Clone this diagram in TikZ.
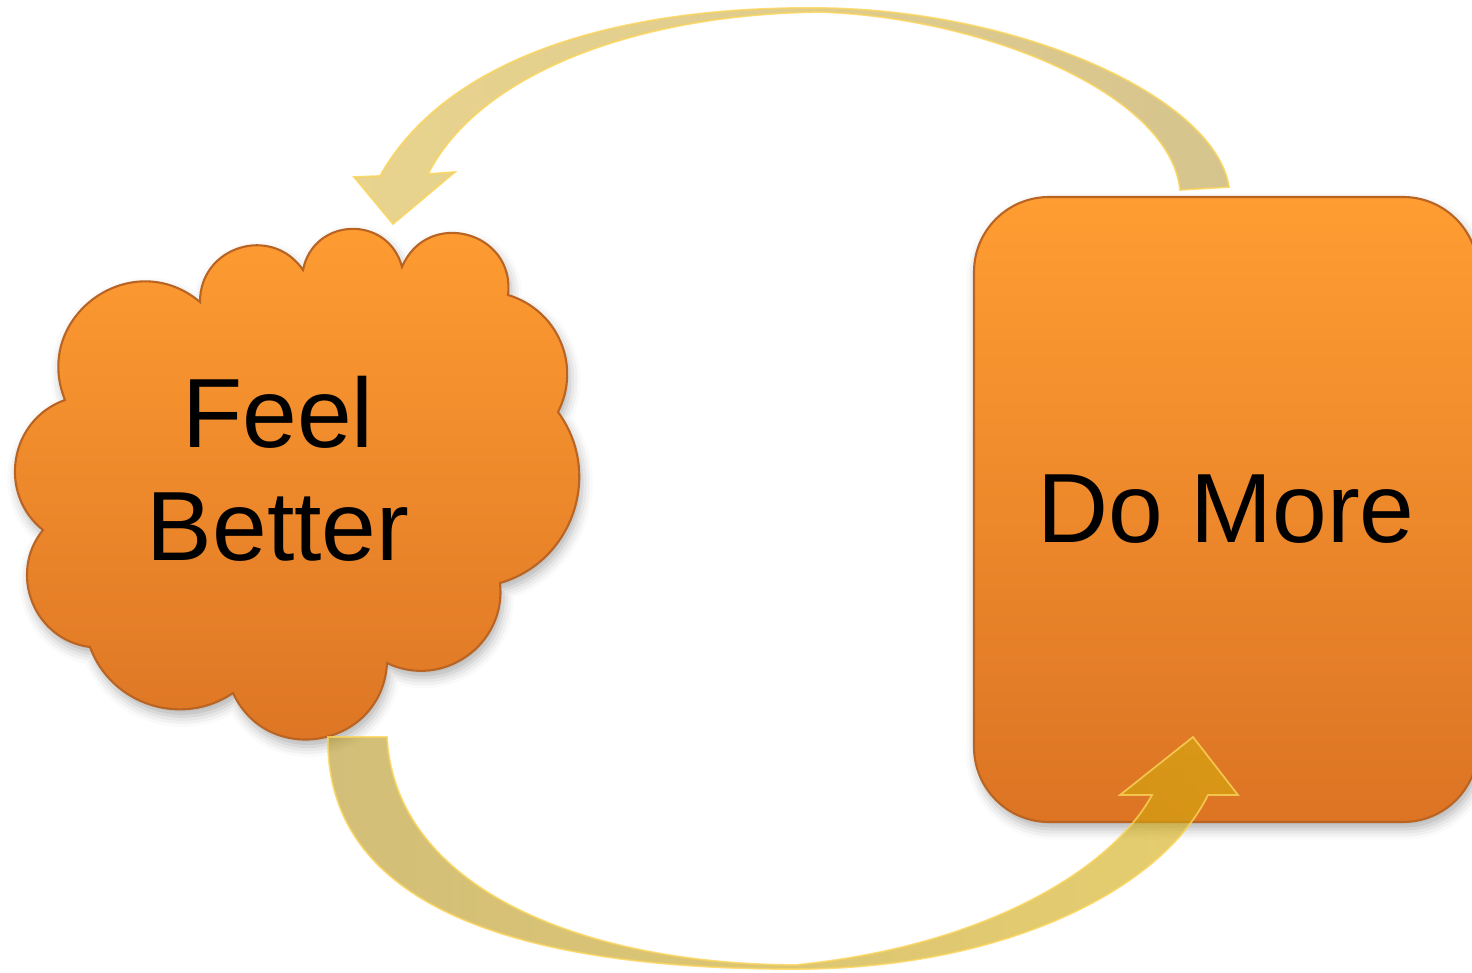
\documentclass[tikz,border=0pt]{standalone}
\usepackage{fontspec}
\setmainfont{Liberation Sans}
\usepackage{tikz}
\usetikzlibrary{shadows.blur}
\definecolor{arancioalto}{RGB}{255,157,50}
\definecolor{aranciobasso}{RGB}{220,116,36}
\definecolor{bordoarancio}{RGB}{185,100,35}
\definecolor{orochiaro}{RGB}{217,183,67}
\definecolor{oroscuro}{RGB}{187,157,67}
\definecolor{orochiarob}{RGB}{213,172,13}
\definecolor{oroscurob}{RGB}{180,147,30}
\definecolor{bordooro}{RGB}{250,212,90}

\begin{document}
\begin{tikzpicture}[
    forma/.style={draw=bordoarancio, line width=0.6pt,
                  top color=arancioalto, bottom color=aranciobasso,
                  blur shadow={shadow xshift=0.8pt, shadow yshift=-2pt,
                               shadow blur radius=3pt, shadow opacity=30}},
    testo/.style={font=\fontsize{28}{32.2}\selectfont, text=black, align=center},
    freccia/.style={draw=bordooro, line width=0.5pt, fill opacity=0.6, draw opacity=0.8},
  ]
  \useasboundingbox (0,0) rectangle (14.72,9.72);

  % Nuvola "Feel Better" (undici gobbe, in senso orario)
  \path[forma] (0.65,5.72)
    to[bend left=76, looseness=1.37] (2.00,6.70)
    to[bend left=73, looseness=1.32] (3.03,7.02)
    to[bend left=77, looseness=1.40] (4.02,7.05)
    to[bend left=82, looseness=1.50] (5.08,6.77)
    to[bend left=50, looseness=1.05] (5.58,5.60)
    to[bend left=55, looseness=1.08] (5.00,3.89)
    to[bend left=61, looseness=1.14] (3.87,3.09)
    to[bend left=76, looseness=1.37] (2.33,2.79)
    to[bend left=52, looseness=1.05] (0.90,3.25)
    to[bend left=61, looseness=1.14] (0.43,4.42)
    to[bend left=61, looseness=1.14] (0.65,5.72)
    -- cycle;
  \node[testo] (feel) at (2.78,5.03) {Feel\\Better};

  % Rettangolo arrotondato "Do More" (tagliato dal bordo destro)
  \node[forma, testo, rounded corners=0.75cm, minimum width=5.04cm, minimum height=6.25cm]
    (domore) at (12.26,4.625) {Do More};

  % Freccia curva in alto: da Do More verso la nuvola
  \path[freccia, left color=orochiaro, right color=oroscuro] (12.29,7.85)
    .. controls (12.15,8.75) and (10.20,9.62) .. (8.20,9.64)
    .. controls (6.30,9.66) and (4.50,9.20) .. (3.80,7.96)
    -- (3.54,7.95) -- (3.93,7.48) -- (4.55,8.00) -- (4.28,7.98)
    .. controls (4.80,9.00) and (6.40,9.58) .. (8.20,9.60)
    .. controls (9.80,9.55) and (11.70,8.80) .. (11.80,7.82)
    -- cycle;

  % Freccia curva in basso: dalla nuvola verso Do More
  \path[freccia, left color=oroscurob, right color=orochiarob] (3.28,2.35)
    .. controls (3.25,0.60) and (5.30,0.03) .. (7.95,0.03)
    .. controls (10.00,0.03) and (11.60,0.80) .. (12.08,1.77)
    -- (12.38,1.77) -- (11.93,2.35) -- (11.20,1.77) -- (11.52,1.77)
    .. controls (11.10,1.00) and (9.80,0.25) .. (7.95,0.07)
    .. controls (5.80,0.08) and (3.95,0.85) .. (3.87,2.35)
    -- cycle;
\end{tikzpicture}
\end{document}
